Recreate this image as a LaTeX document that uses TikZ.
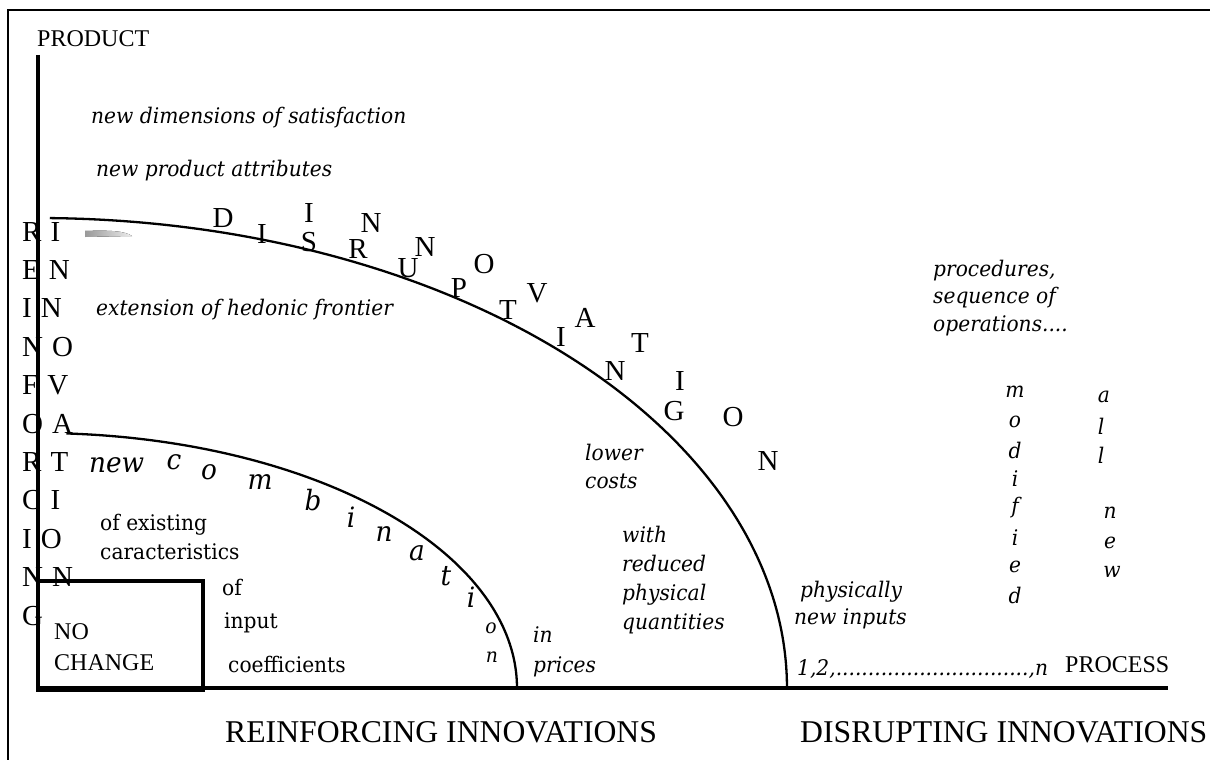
\documentclass[tikz,border=0pt]{standalone}
\usepackage{fontspec}
\setmainfont{Liberation Serif}
\newfontfamily\lab[FakeStretch=0.94]{DejaVu Serif}
\newcommand\rsp{\hspace{9pt}}
\begin{document}
\begin{tikzpicture}[x=1pt,y=-1pt,
  frameline/.style={line width=2.4pt},
  axisline/.style={line width=3.2pt},
  arcline/.style={line width=2.3pt},
  boxline/.style={line width=3.2pt},
  bigltr/.style={inner sep=0pt, font=\fontsize{29}{29}\selectfont},
  rowtxt/.style={inner sep=0pt, anchor=base west, font=\fontsize{29}{29}\selectfont},
  itlbl/.style={inner sep=0pt, anchor=base west, font=\lab\itshape\fontsize{21.5}{24}\selectfont},
  uplbl/.style={inner sep=0pt, anchor=base west, font=\lab\fontsize{21.5}{24}\selectfont},
  serlbl/.style={inner sep=0pt, anchor=base west, font=\fontsize{24}{24}\selectfont},
  combltr/.style={inner sep=0pt, font=\lab\itshape\fontsize{28}{28}\selectfont},
  smallltr/.style={inner sep=0pt, font=\lab\itshape\fontsize{20}{20}\selectfont},
  vltr/.style={inner sep=0pt, font=\lab\itshape\fontsize{21.5}{24}\selectfont},
  titletxt/.style={inner sep=0pt, anchor=base west, font=\fontsize{31.7}{33}\selectfont}]
\useasboundingbox (0,0) rectangle (1210,760);
\fill[white] (0,0) rectangle (1210,760);

% frame
\draw[frameline] (8,760) -- (8,10) -- (1210,10);

% axes
\coordinate (ytop) at (38,55);
\coordinate (orig) at (38,688);
\coordinate (xend) at (1168,688);
\draw[axisline] (ytop) -- (38,690);
\draw[axisline] (orig) -- (xend);

% no change box
\draw[boxline] (38,581) rectangle (203,690);

% arcs
\draw[arcline] plot[domain=89.1:0, samples=150, smooth] ({38+749*cos(\x)},{688-470*sin(\x)});
\draw[arcline] plot[domain=86.6:0, samples=150, smooth] ({38+479*cos(\x)},{688-255*sin(\x)});

% gray streak
\fill[left color=gray!80, right color=gray!15] (85,231) .. controls (110,230) and (125,231) .. (132,236) -- (85,237) -- cycle;

% axis labels
\node[serlbl] (prod) at (37,47) {PRODUCT};
\node[serlbl] (proc) at (1065,672) {PROCESS};

% left vertical words
\foreach \t [count=\i from 0] in {R\rsp I,E\rsp N,I\rsp N,N\rsp O,F\rsp V,O\rsp A,R\rsp T,C\rsp I,I\rsp O,N\rsp N,G}
  \node[rowtxt] (row\i) at (22,{241+38.4*\i}) {\t};

% DISRUPTING along arc
\foreach \l/\px/\py [count=\i] in {D/223/218,I/262/234,S/309/242,R/358/249,U/408/268,P/459/288,T/508/310,I/561/337,N/615/371,G/674/411}
  \node[bigltr] (dis\i) at (\px,\py) {\l};
% INNOVATION above arc
\foreach \l/\px/\py [count=\i] in {I/309/213,N/371/223,N/425/247,O/484/264,V/537/293,A/585/318,T/640/343,I/680/381,O/733/417,N/768/461}
  \node[bigltr] (inn\i) at (\px,\py) {\l};

% new combination
\node[itlbl, font=\lab\itshape\fontsize{28}{28}\selectfont] (newc) at (89,472) {new};
\foreach \l/\px/\py [count=\i] in {c/174/462,o/209/472,m/260/482,b/313/500,i/351/517,n/384/534,a/417/553,t/446/576,i/471/597}
  \node[combltr] (comb\i) at (\px,\py) {\l};
\node[smallltr] (combo) at (491,628) {o};
\node[smallltr] (combn) at (492,657) {n};

% italic labels
\node[itlbl] (nds) at (91,123) {new dimensions of satisfaction};
\node[itlbl] (npa) at (96,176) {new product attributes};
\node[itlbl] (ehf) at (96,315) {extension of hedonic frontier};
\node[itlbl] (in1) at (533,642) {in};
\node[itlbl] (in2) at (533,672) {prices};
\node[itlbl] (lc1) at (585,460) {lower};
\node[itlbl] (lc2) at (585,488) {costs};
\node[itlbl] (wr1) at (622,542) {with};
\node[itlbl] (wr2) at (622,571) {reduced};
\node[itlbl] (wr3) at (622,600) {physical};
\node[itlbl] (wr4) at (622,629) {quantities};
\node[itlbl] (pn1) at (800,597) {physically};
\node[itlbl] (pn2) at (794,624) {new inputs};
\node[itlbl] (seq) at (797,675) {1,2,..............................,n};
\node[itlbl] (pr1) at (933,276) {procedures,};
\node[itlbl] (pr2) at (933,303) {sequence of};
\node[itlbl] (pr3) at (933,331) {operations....};

% upright labels
\node[uplbl] (ex1) at (100,530) {of existing};
\node[uplbl] (ex2) at (100,559) {caracteristics};
\node[uplbl] (ic1) at (222,595) {of};
\node[uplbl] (ic2) at (224,628) {input};
\node[uplbl] (ic3) at (228,672) {coefficients};
\node[serlbl] (nc1) at (54,639) {NO};
\node[serlbl] (nc2) at (54,670) {CHANGE};

% modified / all new
\foreach \l/\py [count=\i] in {m/392,o/422,d/450,i/479,f/508,i/538,e/567,d/595}
  \node[vltr] (mod\i) at (1015,\py) {\l};
\foreach \l/\px/\py [count=\i] in {a/1104/397,l/1101/426,l/1101/455,n/1110/513,e/1110/543,w/1112/572}
  \node[vltr] (alln\i) at (\px,\py) {\l};

% titles
\node[titletxt] (reinf) at (225,742) {REINFORCING INNOVATIONS};
\node[titletxt] (disr) at (800,742) {DISRUPTING INNOVATIONS};
\end{tikzpicture}
\end{document}
